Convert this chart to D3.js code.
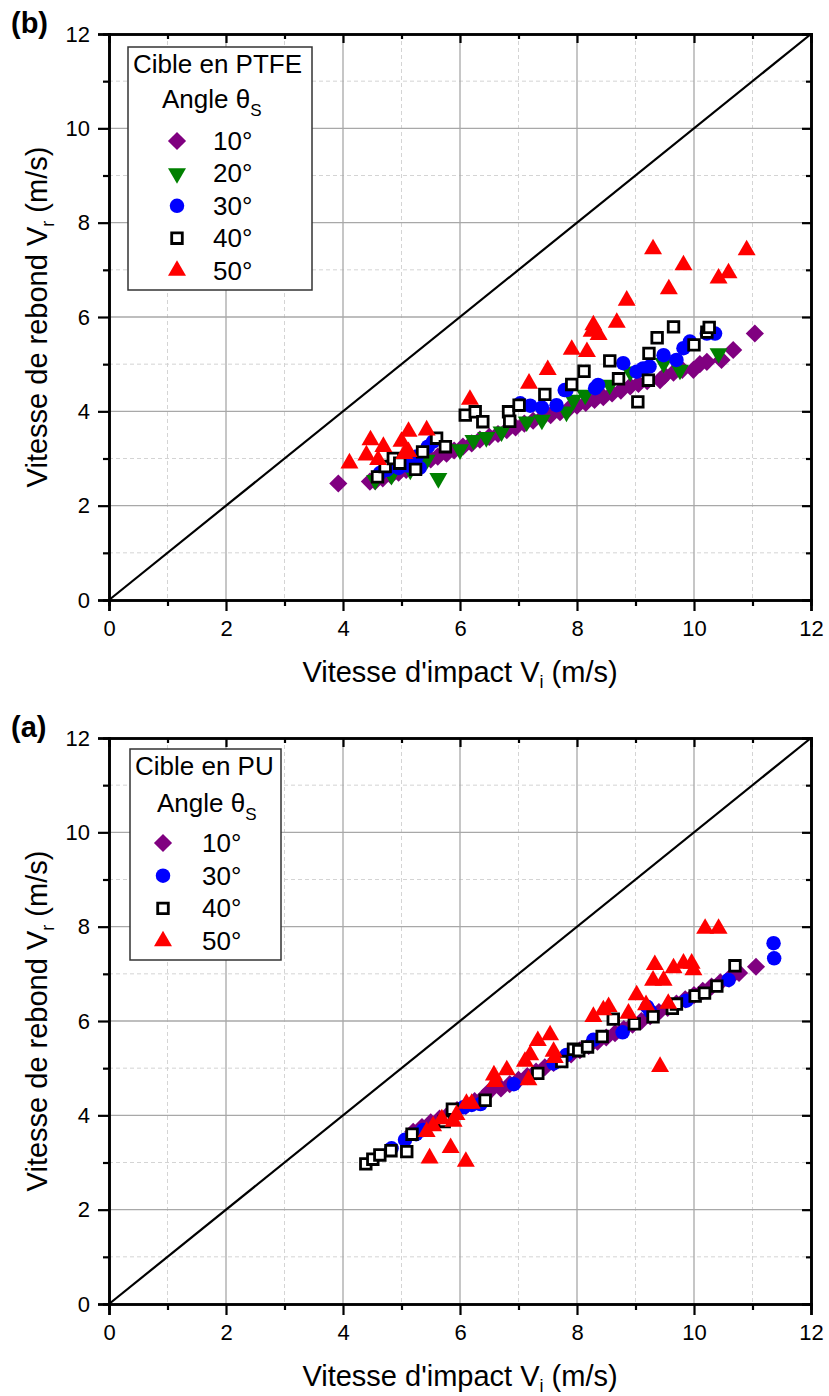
<!DOCTYPE html>
<html><head><meta charset="utf-8">
<script src="https://cdn.jsdelivr.net/npm/d3@7"></script>
<style>body{margin:0;background:#fff;} text{font-family:"Liberation Sans",Arial,sans-serif;}</style>
</head><body>
<svg id="c" width="829" height="1396"></svg>
<script>
// ---------- DATA ----------
const xTicks = [0,2,4,6,8,10,12];
const yTicks = [0,2,4,6,8,10,12];
const angleLabels = ["10°","20°","30°","40°","50°"];

// Panel (b) : Cible en PTFE
const ptfe10 = [[3.92,2.47],[4.46,2.51],[4.55,2.52],[4.68,2.58],[4.82,2.64],[4.95,2.70],[5.08,2.76],[5.2,2.82],[5.35,2.90],[5.5,2.98],[5.62,3.04],[5.77,3.10],[5.9,3.17],[6.05,3.25],[6.2,3.32],[6.34,3.40],[6.5,3.46],[6.65,3.52],[6.8,3.60],[6.95,3.66],[7.1,3.74],[7.25,3.80],[7.4,3.86],[7.55,3.92],[7.71,3.98],[7.85,4.04],[8.0,4.12],[8.15,4.18],[8.3,4.24],[8.45,4.30],[8.6,4.38],[8.75,4.44],[8.91,4.53],[9.05,4.58],[9.2,4.64],[9.42,4.66],[9.5,4.76],[9.65,4.82],[9.8,4.88],[9.99,4.88],[10.1,5.00],[10.22,5.05],[10.47,5.09],[10.67,5.30],[11.04,5.65]];
const ptfe20 = [[4.55,2.54],[4.83,2.65],[5.15,2.76],[5.43,2.97],[5.63,2.58],[6.0,3.19],[6.23,3.39],[6.45,3.45],[6.71,3.57],[7.14,3.78],[7.40,3.82],[7.82,3.99],[7.94,4.24],[8.14,4.35],[8.56,4.56],[8.91,4.84],[9.48,5.02],[9.76,4.88],[10.42,5.23]];
const ptfe30 = [[4.63,2.69],[4.75,2.76],[4.95,2.80],[5.1,2.85],[5.26,3.04],[5.31,2.80],[5.45,3.25],[5.54,3.36],[7.03,4.17],[7.2,4.12],[7.4,4.08],[7.65,4.13],[7.79,4.45],[7.82,4.45],[8.31,4.49],[8.36,4.56],[8.79,5.02],[9.02,4.84],[9.13,4.91],[9.24,4.95],[9.48,5.19],[9.70,5.09],[9.82,5.34],[9.93,5.48],[10.22,5.65],[10.36,5.65]];
const ptfe40 = [[4.59,2.61],[4.72,2.83],[4.86,3.00],[4.97,2.90],[5.24,2.77],[5.36,3.14],[5.60,3.43],[5.75,3.25],[6.09,3.92],[6.26,3.99],[6.39,3.78],[6.83,3.99],[6.85,3.79],[7.01,4.13],[7.45,4.36],[7.91,4.57],[8.12,4.85],[8.56,5.07],[8.71,4.69],[9.04,4.20],[9.22,4.66],[9.23,5.23],[9.37,5.56],[9.65,5.79],[10.0,5.41],[10.22,5.68],[10.26,5.78]];
const ptfe50 = [[4.11,2.90],[4.40,3.07],[4.47,3.39],[4.60,2.97],[4.69,3.25],[5.00,3.36],[5.05,3.10],[5.12,3.57],[5.12,3.14],[5.43,3.60],[6.17,4.25],[7.18,4.59],[7.50,4.88],[7.91,5.31],[8.17,5.26],[8.25,5.69],[8.28,5.83],[8.37,5.62],[8.68,5.88],[8.85,6.35],[9.30,7.44],[9.57,6.59],[9.82,7.10],[10.42,6.82],[10.59,6.93],[10.90,7.42]];

// Panel (a) : Cible en PU
const pu10 = [[5.2,3.65],[5.35,3.75],[5.5,3.85],[5.65,3.93],[5.8,4.02],[5.95,4.11],[6.1,4.20],[6.25,4.30],[6.4,4.38],[6.51,4.52],[6.7,4.57],[6.85,4.66],[7.0,4.75],[7.15,4.83],[7.3,4.93],[7.45,5.02],[7.6,5.11],[7.75,5.20],[7.9,5.29],[8.05,5.38],[8.2,5.47],[8.35,5.56],[8.5,5.65],[8.65,5.74],[8.8,5.83],[8.95,5.92],[9.1,6.00],[9.25,6.10],[9.4,6.19],[9.55,6.28],[9.7,6.37],[9.85,6.46],[10.0,6.55],[10.15,6.64],[10.3,6.73],[10.45,6.82],[10.6,6.90],[10.77,7.02],[11.06,7.15]];
const pu30 = [[4.83,3.30],[5.06,3.48],[5.25,3.60],[5.37,3.69],[6.06,4.17],[6.20,4.22],[6.35,4.24],[6.92,4.66],[7.60,5.10],[7.82,5.28],[8.28,5.60],[8.78,5.76],[9.20,6.30],[9.25,6.21],[9.87,6.43],[10.59,6.87],[11.36,7.65],[11.37,7.33]];
const pu40 = [[4.39,2.97],[4.51,3.07],[4.63,3.16],[4.82,3.25],[5.09,3.23],[5.18,3.60],[5.73,3.87],[5.87,4.13],[6.43,4.32],[7.33,4.89],[7.74,5.14],[7.94,5.40],[8.03,5.37],[8.18,5.45],[8.43,5.67],[8.62,6.04],[8.98,5.94],[9.30,6.09],[9.63,6.27],[9.70,6.36],[10.02,6.53],[10.18,6.59],[10.39,6.74],[10.70,7.17]];
const pu50 = [[5.48,3.09],[5.84,3.31],[6.10,3.02],[5.43,3.65],[5.54,3.77],[5.69,3.92],[5.89,3.87],[5.94,4.01],[6.11,4.25],[6.20,4.25],[6.58,4.85],[6.60,4.71],[6.80,4.96],[7.11,5.14],[7.17,4.75],[7.20,5.28],[7.33,5.58],[7.54,5.70],[7.60,5.35],[7.62,5.22],[8.28,6.09],[8.45,6.23],[8.54,6.30],[8.88,6.16],[9.02,6.55],[9.18,6.34],[9.30,6.86],[9.33,7.19],[9.42,5.03],[9.48,6.86],[9.56,6.37],[9.65,7.12],[9.82,7.22],[9.96,7.22],[9.99,7.08],[10.19,7.96],[10.42,7.96]];

// ---------- STYLE ----------
const styles = {
  "10°": {type:"diamond", fill:"#800080"},
  "20°": {type:"down", fill:"#008000"},
  "30°": {type:"circle", fill:"#0000ff"},
  "40°": {type:"square", fill:"#ffffff"},
  "50°": {type:"up", fill:"#ff0000"}
};

const svg = d3.select("#c");
svg.append("rect").attr("width",829).attr("height",1396).attr("fill","#fff");

function symbolPath(type){
  if(type==="diamond") return d3.symbol(d3.symbolSquare, 165)();
  if(type==="circle") return d3.symbol(d3.symbolCircle, 165)();
  if(type==="square") return d3.symbol(d3.symbolSquare, 112)();
  return d3.symbol(d3.symbolTriangle, 140)();
}
function drawSymbol(g, type, fill, x, y){
  let rot = 0;
  if(type==="diamond") rot = 45;
  if(type==="down") rot = 180;
  const p = g.append("path").attr("d", symbolPath(type))
    .attr("transform", `translate(${x},${y}) rotate(${rot})`)
    .attr("fill", fill);
  if(type==="square") p.attr("stroke","#000").attr("stroke-width",2.8);
  else p.attr("stroke","none");
}

function panel(cfg){
  const L=109, R=811, T=cfg.top, B=cfg.top+566;
  const x = d3.scaleLinear().domain([0,12]).range([L,R]);
  const y = d3.scaleLinear().domain([0,12]).range([B,T]);
  const g = svg.append("g");
  const minor = [1,3,5,7,9,11];
  // grid
  g.selectAll(null).data(minor).enter().append("line")
    .attr("x1",d=>x(d)).attr("x2",d=>x(d)).attr("y1",T).attr("y2",B)
    .attr("stroke","#d4d4d4").attr("stroke-width",1).attr("stroke-dasharray","4,3");
  g.selectAll(null).data(minor).enter().append("line")
    .attr("y1",d=>y(d)).attr("y2",d=>y(d)).attr("x1",L).attr("x2",R)
    .attr("stroke","#d4d4d4").attr("stroke-width",1).attr("stroke-dasharray","4,3");
  g.selectAll(null).data(xTicks.slice(1,-1)).enter().append("line")
    .attr("x1",d=>x(d)).attr("x2",d=>x(d)).attr("y1",T).attr("y2",B)
    .attr("stroke","#a8a8a8").attr("stroke-width",1.3);
  g.selectAll(null).data(yTicks.slice(1,-1)).enter().append("line")
    .attr("y1",d=>y(d)).attr("y2",d=>y(d)).attr("x1",L).attr("x2",R)
    .attr("stroke","#a8a8a8").attr("stroke-width",1.3);
  // diagonal
  g.append("line").attr("x1",x(0)).attr("y1",y(0)).attr("x2",x(12)).attr("y2",y(12))
    .attr("stroke","#000").attr("stroke-width",2.2);
  // data
  cfg.series.forEach(s=>{
    const st = styles[s.label];
    s.data.forEach(d=>drawSymbol(g, st.type, st.fill, x(d[0]), y(d[1])));
  });
  // axes
  const fmt = d3.format("d");
  g.append("g").attr("transform",`translate(0,${B})`)
    .call(d3.axisBottom(x).tickValues(xTicks).tickFormat(fmt).tickSize(11).tickPadding(9));
  g.append("g").attr("transform",`translate(${L},0)`)
    .call(d3.axisLeft(y).tickValues(yTicks).tickFormat(fmt).tickSize(11).tickPadding(8));
  g.append("g").attr("transform",`translate(0,${T})`)
    .call(d3.axisTop(x).tickValues(xTicks).tickFormat("").tickSize(-9));
  g.append("g").attr("transform",`translate(${R},0)`)
    .call(d3.axisRight(y).tickValues(yTicks).tickFormat("").tickSize(-9));
  // minor ticks
  g.append("g").attr("transform",`translate(0,${B})`).call(d3.axisBottom(x).tickValues(minor).tickFormat("").tickSize(6));
  g.append("g").attr("transform",`translate(${L},0)`).call(d3.axisLeft(y).tickValues(minor).tickFormat("").tickSize(6));
  g.append("g").attr("transform",`translate(0,${T})`).call(d3.axisTop(x).tickValues(minor).tickFormat("").tickSize(-5));
  g.append("g").attr("transform",`translate(${R},0)`).call(d3.axisRight(y).tickValues(minor).tickFormat("").tickSize(-5));
  g.selectAll(".domain").attr("stroke","#000").attr("stroke-width",2.6);
  g.selectAll(".tick line").attr("stroke","#000").attr("stroke-width",2.2);
  g.selectAll(".tick text").attr("font-size",22).attr("fill","#000")
    .attr("font-family","Liberation Sans, Arial, sans-serif");
  // axis titles
  const xt = g.append("text").attr("x",(L+R)/2).attr("y",B+82).attr("text-anchor","middle")
    .attr("font-size",29).attr("fill","#000");
  xt.append("tspan").text("Vitesse d'impact V");
  xt.append("tspan").attr("font-size",18).attr("dy",6).text("i");
  xt.append("tspan").attr("dy",-6).text(" (m/s)");
  const yt = g.append("text").attr("transform",`translate(47,${(T+B)/2}) rotate(-90)`)
    .attr("text-anchor","middle").attr("font-size",29).attr("fill","#000");
  yt.append("tspan").text("Vitesse de rebond V");
  yt.append("tspan").attr("font-size",18).attr("dy",7).text("r");
  yt.append("tspan").attr("dy",-7).text(" (m/s)");
  // panel label
  g.append("text").attr("x",11).attr("y",T-1).attr("font-size",29).attr("font-weight","bold")
    .attr("fill","#000").text(cfg.tag);
  // legend
  const lg = cfg.legend;
  g.append("rect").attr("x",lg.x0).attr("y",lg.y0).attr("width",lg.x1-lg.x0).attr("height",lg.y1-lg.y0)
    .attr("fill","#fff").attr("stroke","#333").attr("stroke-width",1.5);
  g.append("text").attr("x",lg.x0+5).attr("y",lg.titleY).attr("font-size",26).attr("fill","#000").text(cfg.title);
  const an = g.append("text").attr("x",lg.angleX).attr("y",lg.angleY).attr("font-size",26).attr("fill","#000");
  an.append("tspan").text("Angle θ");
  an.append("tspan").attr("font-size",17).attr("dy",8).text("S");
  cfg.series.forEach((s,i)=>{
    const by = lg.rowY + i*lg.rowH;
    const st = styles[s.label];
    drawSymbol(g, st.type, st.fill, lg.symX, by-9);
    g.append("text").attr("x",lg.textX).attr("y",by).attr("font-size",26).attr("fill","#000").text(s.label);
  });
}

panel({top:34, tag:"(b)", title:"Cible en PTFE",
  series:[{label:angleLabels[0],data:ptfe10},{label:angleLabels[1],data:ptfe20},{label:angleLabels[2],data:ptfe30},{label:angleLabels[3],data:ptfe40},{label:angleLabels[4],data:ptfe50}],
  legend:{x0:128,y0:47,x1:312,y1:290,titleY:73,angleX:162,angleY:108,rowY:150,rowH:32.4,symX:177,textX:213}
});
panel({top:738, tag:"(a)", title:"Cible en PU",
  series:[{label:angleLabels[0],data:pu10},{label:angleLabels[2],data:pu30},{label:angleLabels[3],data:pu40},{label:angleLabels[4],data:pu50}],
  legend:{x0:130,y0:749,x1:281,y1:960,titleY:775,angleX:157,angleY:812,rowY:852,rowH:32.7,symX:163,textX:202}
});
</script>
</body></html>
